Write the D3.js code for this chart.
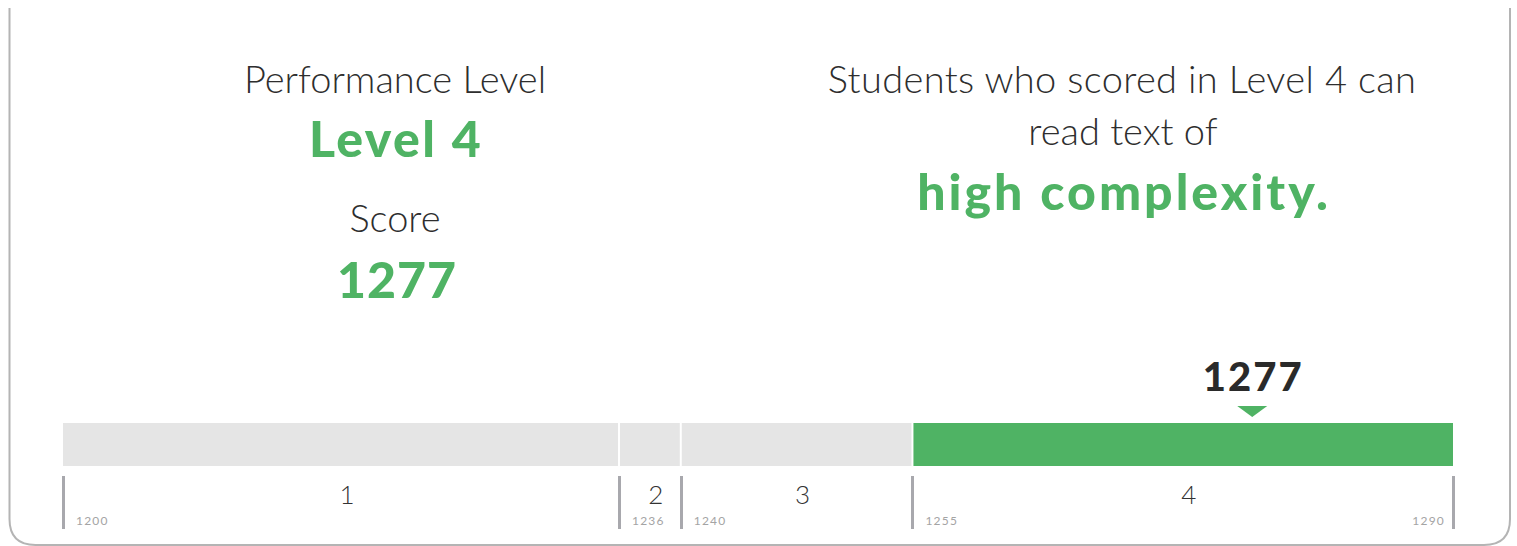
<!DOCTYPE html>
<html>
<head>
<meta charset="utf-8">
<script src="https://cdn.jsdelivr.net/npm/d3@7"></script>
<style>
  body { margin: 0; background: #fff; }
  svg { display: block; font-family: Lato, "Open Sans", sans-serif; }
  .head { fill: #2e2e2e; font-weight: 300; }
  .big { fill: #4fb364; font-weight: 900; }
</style>
</head>
<body>
<script>
// Score report data
const levels = ["1", "2", "3", "4"];
const cutScores = [1200, 1236, 1240, 1255, 1290];
const studentScore = 1277;
const studentLevel = "4";
const complexity = "high complexity.";

const width = 1517;
const height = 546;
const green = "#4fb364";

const svg = d3.select("body")
    .append("svg")
    .attr("width", width)
    .attr("height", height);

// Card outline (left, bottom and right edges with rounded corners)
const r = 26;
svg.append("path")
    .attr("d", `M9.5,8 V${545 - r} Q9.5,545 ${9.5 + r},545 H${1510 - r} Q1510,545 1510,${545 - r} V8`)
    .attr("fill", "none")
    .attr("stroke", "#b4b4b4")
    .attr("stroke-width", 2);

// Scale for the score bar
const x = d3.scaleLinear()
    .domain([cutScores[0], cutScores[cutScores.length - 1]])
    .range([63, 1453]);

const segments = levels.map((lv, i) => ({
    level: lv,
    start: cutScores[i],
    end: cutScores[i + 1]
}));

// Bar segments
svg.selectAll(".seg")
    .data(segments)
    .join("rect")
    .attr("class", "seg")
    .attr("x", (d, i) => x(d.start) + (i > 0 ? 1 : 0))
    .attr("y", 423)
    .attr("width", (d, i) => x(d.end) - x(d.start) - (i > 0 ? 1 : 0) - (i < segments.length - 1 ? 1 : 0))
    .attr("height", 43)
    .attr("fill", d => d.level === studentLevel ? green : "#e5e5e5");

// Tick lines at cut scores
svg.selectAll(".tick")
    .data(cutScores)
    .join("line")
    .attr("class", "tick")
    .attr("x1", d => Math.round(x(d)) + 0.5)
    .attr("x2", d => Math.round(x(d)) + 0.5)
    .attr("y1", 476)
    .attr("y2", 529)
    .attr("stroke", "#a8a8ad")
    .attr("stroke-width", 3);

// Cut score labels
svg.selectAll(".cut")
    .data(cutScores)
    .join("text")
    .attr("class", "cut")
    .attr("x", (d, i) => i === cutScores.length - 1 ? x(d) - 8 : x(d) + 13)
    .attr("y", 525)
    .attr("text-anchor", (d, i) => i === cutScores.length - 1 ? "end" : "start")
    .attr("font-size", 12)
    .attr("fill", "#a4a4a4")
    .attr("letter-spacing", 1.2)
    .text(d => d);

// Level numbers
svg.selectAll(".lvl")
    .data(segments)
    .join("text")
    .attr("class", "lvl")
    .attr("x", d => (x(d.start) + x(d.end)) / 2 + 6)
    .attr("y", 504)
    .attr("text-anchor", "middle")
    .attr("font-size", 26)
    .attr("font-weight", 300)
    .attr("fill", "#333")
    .text(d => d.level);

// Score marker
const mx = x(studentScore);
svg.append("path")
    .attr("d", `M${mx - 15},406 L${mx + 15},406 L${mx},417 Z`)
    .attr("fill", green);

svg.append("text")
    .attr("x", mx + 1)
    .attr("y", 391)
    .attr("text-anchor", "middle")
    .attr("font-size", 40)
    .attr("font-weight", 900)
    .attr("letter-spacing", 2)
    .attr("fill", "#2a2a2a")
    .text(studentScore);

// Left heading block
svg.append("text")
    .attr("class", "head")
    .attr("x", 395)
    .attr("y", 93)
    .attr("text-anchor", "middle")
    .attr("font-size", 38)
    .text("Performance Level");

svg.append("text")
    .attr("class", "big")
    .attr("x", 396)
    .attr("y", 157)
    .attr("text-anchor", "middle")
    .attr("font-size", 50)
    .attr("letter-spacing", 2.4)
    .text("Level " + studentLevel);

svg.append("text")
    .attr("class", "head")
    .attr("x", 395)
    .attr("y", 232)
    .attr("text-anchor", "middle")
    .attr("font-size", 38)
    .text("Score");

svg.append("text")
    .attr("class", "big")
    .attr("x", 397)
    .attr("y", 298)
    .attr("text-anchor", "middle")
    .attr("font-size", 50)
    .attr("letter-spacing", 1)
    .text(studentScore);

// Right description block
svg.append("text")
    .attr("class", "head")
    .attr("x", 1122)
    .attr("y", 93)
    .attr("text-anchor", "middle")
    .attr("font-size", 38)
    .attr("letter-spacing", 0.35)
    .text(`Students who scored in Level ${studentLevel} can`);

svg.append("text")
    .attr("class", "head")
    .attr("x", 1123)
    .attr("y", 145)
    .attr("text-anchor", "middle")
    .attr("font-size", 38)
    .text("read text of");

svg.append("text")
    .attr("class", "big")
    .attr("x", 1124)
    .attr("y", 210)
    .attr("text-anchor", "middle")
    .attr("font-size", 50)
    .attr("letter-spacing", 3)
    .text(complexity);
</script>
</body>
</html>
